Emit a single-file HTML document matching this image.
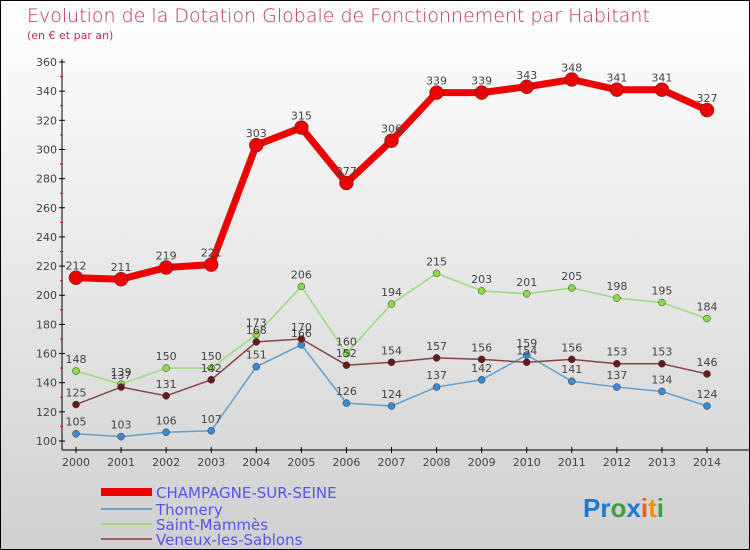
<!DOCTYPE html>
<html><head><meta charset="utf-8"><style>
body{margin:0;}
#wrap{width:748px;height:548px;border:1px solid #000;background:linear-gradient(#ffffff,#d0d0d0);position:relative;overflow:hidden;font-family:"DejaVu Sans","Liberation Sans",sans-serif;}
</style></head><body>
<div id="wrap">
<svg id="chart" width="748" height="548">
<text x="26" y="21" font-size="19" fill="#c0305a" font-weight="300">Evolution de la Dotation Globale de Fonctionnement par Habitant</text>
<text x="26" y="38" font-size="11" fill="#c0305a">(en € et par an)</text>
<g id="axes"></g><g id="series"></g><g id="legend"></g>
<text x="582" y="516" font-size="26" font-family="Liberation Sans, sans-serif" font-weight="bold"><tspan fill="#1a7ad0">Pr</tspan><tspan fill="#3aa040">o</tspan><tspan fill="#1a7ad0">x</tspan><tspan fill="#f06010">i</tspan><tspan fill="#f09010">t</tspan><tspan fill="#3aa040">i</tspan></text>
</svg></div>
<script>
const years=[2000,2001,2002,2003,2004,2005,2006,2007,2008,2009,2010,2011,2012,2013,2014];
const champagne=[212,211,219,221,303,315,277,306,339,339,343,348,341,341,327];
const thomery=[105,103,106,107,151,166,126,124,137,142,159,141,137,134,124];
const saintMammes=[148,139,150,150,173,206,160,194,215,203,201,205,198,195,184];
const veneux=[125,137,131,142,168,170,152,154,157,156,154,156,153,153,146];
const yTicks=[100,120,140,160,180,200,220,240,260,280,300,320,340,360];
const NS="http://www.w3.org/2000/svg";
const x=i=>75+i*(631/14);
const y=v=>440-(v-100)*(379/260);
function mk(tag,attrs,parent){const e=document.createElementNS(NS,tag);for(const k in attrs)e.setAttribute(k,attrs[k]);parent.appendChild(e);return e;}
const axes=document.getElementById('axes');
let a=mk('line',{x1:61,y1:58,x2:61,y2:449,stroke:'#000'},axes);


a=mk('line',{x1:61,y1:449,x2:748,y2:449,stroke:'#000'},axes);


yTicks.forEach((t,i)=>{
 const yy=y(t);
 mk('line',{x1:58,y1:yy,x2:64,y2:yy,stroke:'#000'},axes);
 if(i<yTicks.length-1){mk('line',{x1:59,y1:y(t+10),x2:62,y2:y(t+10),stroke:'#e00'},axes);}
 const tx=mk('text',{x:56,y:yy+4,'font-size':11,'text-anchor':'end',fill:'#444'},axes);
 tx.textContent=t;
 
 
});
years.forEach((yr,i)=>{
 mk('line',{x1:x(i),y1:446,x2:x(i),y2:452,stroke:'#000'},axes);
 const tx=mk('text',{x:x(i),y:465,'font-size':11,'text-anchor':'middle',fill:'#444'},axes);
 tx.textContent=yr;
 
 
});
const sg=document.getElementById('series');
function series(data,color,dot,width,r,name){
 const g=mk('g',{},sg);
 
 
 const p=mk('polyline',{points:data.map((v,i)=>x(i)+','+y(v)).join(' '),fill:'none',stroke:color,'stroke-width':width,'stroke-linejoin':'round'},g);
 
 
 data.forEach((v,i)=>{
  const c=mk('circle',{cx:x(i),cy:y(v),r:r,fill:dot,stroke:'#333','stroke-width':0.5},g);
  
  
  const t=mk('text',{x:x(i),y:y(v)-8,'font-size':11,'text-anchor':'middle',fill:'#444'},g);
  t.textContent=v;
  
  
 });
}
series(thomery,'#5fa0d0','#3a8ad0',1.5,3.5,'thomery');
series(saintMammes,'#99dd77','#88dd44',1.5,3.5,'saint-mammes');
series(veneux,'#884444','#661a1a',1.5,3.5,'veneux');
series(champagne,'#ee0000','#ee0000',7,7,'champagne');
const lg=document.getElementById('legend');
const items=[['CHAMPAGNE-SUR-SEINE','#ee0000',8,491],['Thomery','#6aa4d0',2,508],['Saint-Mammès','#99dd77',2,523],['Veneux-les-Sablons','#a06060',2,538]];
items.forEach(it=>{
 const g=mk('g',{},lg);
 
 
 mk('line',{x1:100,y1:it[3],x2:151,y2:it[3],stroke:it[1],'stroke-width':it[2]},g);
 const t=mk('text',{x:155,y:it[3]+6,'font-size':15,fill:'#5555ee'},g);
 t.textContent=it[0];
});
</script>
</body></html>
